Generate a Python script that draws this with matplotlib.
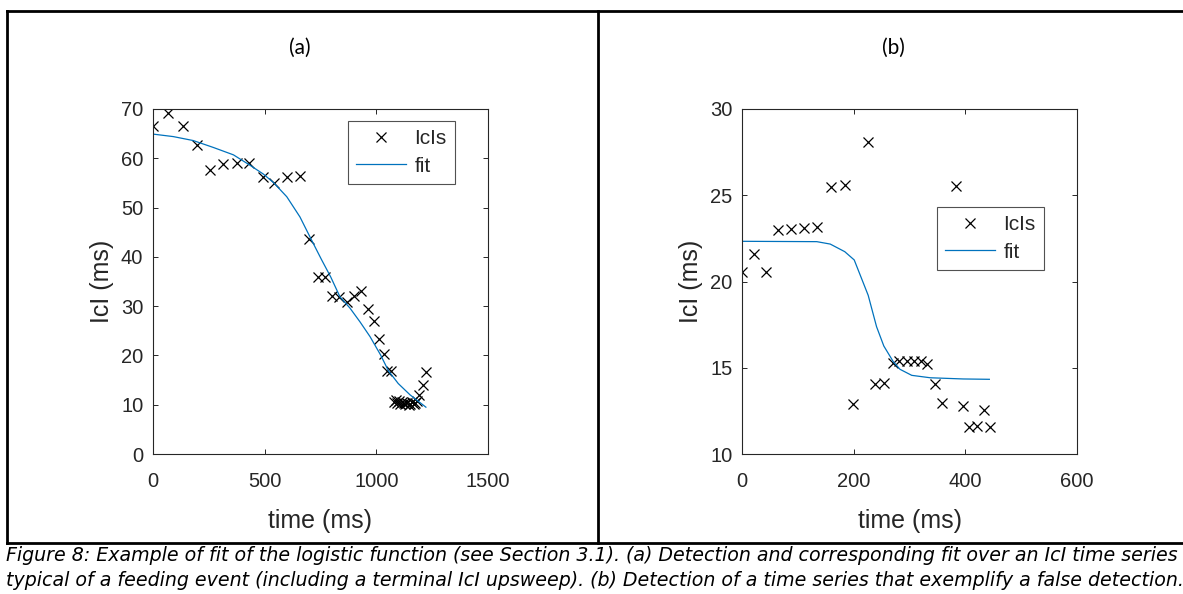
import matplotlib
matplotlib.use("Agg")
import matplotlib.pyplot as plt
from matplotlib.lines import Line2D

# ---------------- data ----------------
# panel (a): IcIs detection over a feeding event
a_time = [1, 69, 136, 198, 255, 315, 375, 430, 491, 542, 599, 658,
          700, 737, 771, 803, 834, 867, 901, 931, 961, 991, 1011, 1033,
          1049, 1064, 1078, 1086, 1093, 1100, 1108, 1115, 1122, 1130,
          1137, 1145, 1152, 1160, 1167, 1175, 1182, 1192, 1207, 1222]
a_icl = [66.5, 69.1, 66.5, 62.6, 57.6, 58.8, 59.0, 59.1, 56.3, 55.0, 56.3, 56.5,
         43.6, 35.9, 35.9, 32.1, 31.8, 30.9, 32.1, 33.1, 29.4, 27.0, 23.3, 20.3,
         16.9, 16.9, 10.5, 11.0, 10.3, 10.8, 10.2, 10.6, 10.3, 10.1, 10.4,
         10.0, 10.2, 10.5, 10.1, 10.3, 10.7, 12.0, 14.0, 16.7]
a_fit_time = [1.5, 91, 180, 270, 360, 434, 494, 539, 599, 658, 710, 755, 796,
              837, 882, 927, 972, 1019, 1054, 1098, 1151, 1222]
a_fit_icl = [64.9, 64.4, 63.6, 62.2, 60.7, 58.6, 56.8, 55.1, 52.2, 48.1, 43.4,
             39.4, 35.9, 31.9, 29.6, 26.8, 23.8, 20.1, 16.9, 14.3, 12.0, 9.5]

# panel (b): false detection
b_time = [0.5, 21.5, 43, 65, 88, 111, 134, 159, 184, 198, 226, 239, 254,
          270, 282, 295, 308, 320, 332, 346, 359, 383, 396, 407, 420, 433, 445]
b_icl = [20.57, 21.58, 20.57, 22.99, 23.03, 23.12, 23.14, 25.46, 25.59, 12.88,
         28.1, 14.06, 14.10, 15.26, 15.39, 15.39, 15.39, 15.39, 15.22, 14.06,
         12.94, 25.54, 12.78, 11.58, 11.62, 12.55, 11.55]
b_fit_time = [0, 134, 158, 184, 201, 226, 241, 254, 271, 283, 304, 337, 396, 443]
b_fit_icl = [22.33, 22.31, 22.17, 21.73, 21.25, 19.2, 17.38, 16.26, 15.35,
             14.91, 14.56, 14.42, 14.35, 14.33]

a_xticks = [0, 500, 1000, 1500]
a_yticks = [0, 10, 20, 30, 40, 50, 60, 70]
b_xticks = [0, 200, 400, 600]
b_yticks = [10, 15, 20, 25, 30]

panel_titles = ["(a)", "(b)"]
xlabel = "time (ms)"
ylabel = "IcI (ms)"
legend_labels = ["IcIs", "fit"]
caption = ("Figure 8: Example of fit of the logistic function (see Section 3.1). "
           "(a) Detection and corresponding fit over an IcI time series\n"
           "typical of a feeding event (including a terminal IcI upsweep). "
           "(b) Detection of a time series that exemplify a false detection.")

# ---------------- figure ----------------
W, H = 1183, 594
fig = plt.figure(figsize=(W / 100, H / 100), dpi=100)
fig.patch.set_facecolor("white")

def fx(px):
    return px / W

def fy(py):
    return 1 - py / H

AX_COL = "#262626"
BLUE = "#0072BD"
FONT = ["Liberation Sans", "DejaVu Sans"]

panels = [
    dict(left=153, t=a_time, v=a_icl, ft=a_fit_time, fv=a_fit_icl,
         xlim=(0, 1500), ylim=(0, 70), xt=a_xticks, yt=a_yticks,
         leg=(455, 121), title_x=300),
    dict(left=742, t=b_time, v=b_icl, ft=b_fit_time, fv=b_fit_icl,
         xlim=(0, 600), ylim=(10, 30), xt=b_xticks, yt=b_yticks,
         leg=(1044, 207), title_x=893),
]

for i, p in enumerate(panels):
    ax = fig.add_axes([fx(p["left"]), fy(454), 335 / W, 345 / H])
    ax.plot(p["t"], p["v"], linestyle="none", marker="x", color="black",
            markersize=7.5, markeredgewidth=0.9, label=legend_labels[0])
    ax.plot(p["ft"], p["fv"], color=BLUE, linewidth=0.9, label=legend_labels[1])
    ax.set_xlim(*p["xlim"])
    ax.set_ylim(*p["ylim"])
    ax.set_xticks(p["xt"])
    ax.set_yticks(p["yt"])
    for s in ax.spines.values():
        s.set_color(AX_COL)
        s.set_linewidth(0.8)
    ax.tick_params(direction="in", length=3.5, width=0.7, colors=AX_COL,
                   top=True, right=True, labelsize=14.5, pad=7)
    ax.tick_params(axis="x", pad=13)
    for lab in ax.get_xticklabels() + ax.get_yticklabels():
        lab.set_family(FONT)
    ax.set_xlabel(xlabel, fontsize=18, color=AX_COL, family=FONT, labelpad=13)
    ax.set_ylabel(ylabel, fontsize=18, color=AX_COL, family=FONT, labelpad=5)
    lx, ly = p["leg"]
    leg = ax.legend(loc="upper right", bbox_to_anchor=(fx(lx), fy(ly)),
                    bbox_transform=fig.transFigure, frameon=True, fancybox=False,
                    prop={"family": FONT, "size": 15}, handlelength=2.4,
                    borderpad=0.4, labelspacing=0.4, handletextpad=0.4,
                    borderaxespad=0)
    leg.get_frame().set_edgecolor(AX_COL)
    leg.get_frame().set_linewidth(0.8)
    for t in leg.get_texts():
        t.set_color(AX_COL)
    fig.text(fx(p["title_x"]), fy(48), panel_titles[i], ha="center", va="center",
             fontsize=15, family=["Lato", "DejaVu Sans"], color="black")

# table frame
lw = 2.0
fig.add_artist(Line2D([fx(7), 1], [fy(10.5), fy(10.5)], color="black", lw=lw))
fig.add_artist(Line2D([fx(7), 1], [fy(543), fy(543)], color="black", lw=lw))
fig.add_artist(Line2D([fx(7), fx(7)], [fy(10.5), fy(543)], color="black", lw=lw))
fig.add_artist(Line2D([fx(598), fx(598)], [fy(10.5), fy(543)], color="black", lw=lw))

# caption
fig.text(fx(6), fy(546), caption, ha="left", va="top", fontsize=13.7,
         style="italic", family=["DejaVu Sans"], color="black", linespacing=1.4)

fig.savefig("out.png", dpi=100, facecolor="white")
